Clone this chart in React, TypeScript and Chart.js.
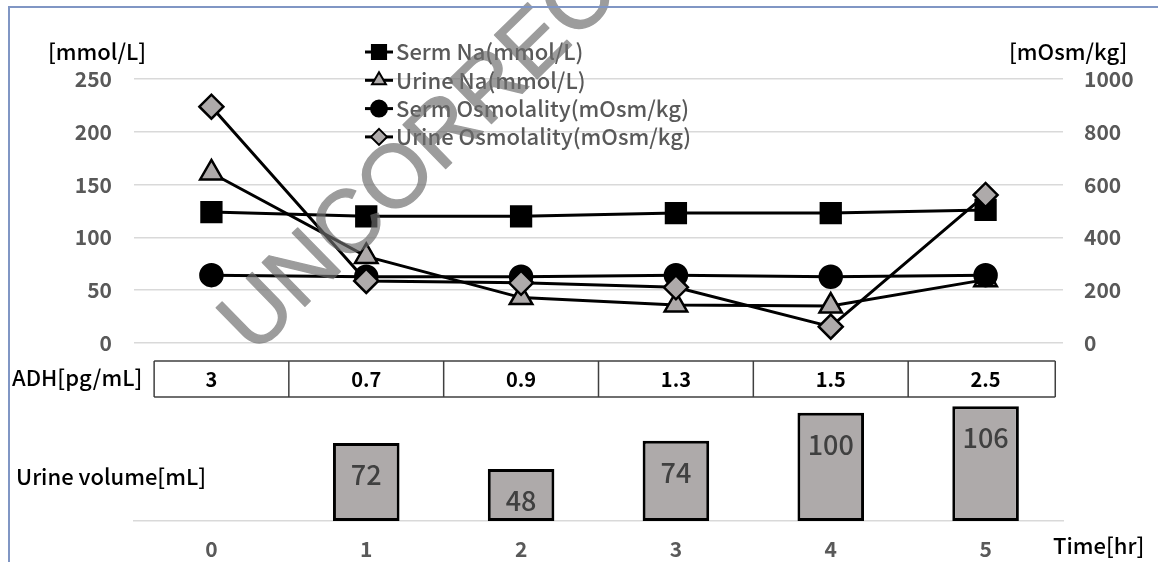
import React, { useEffect, useRef } from 'react';
import { Chart, registerables } from 'chart.js';

Chart.register(...registerables);

// ---------- data ----------
const timeLabels = ['0', '1', '2', '3', '4', '5'];
const seriesNames = [
  'Serm Na(mmol/L)',
  'Urine Na(mmol/L)',
  'Serm Osmolality(mOsm/kg)',
  'Urine Osmolality(mOsm/kg)',
];
const sermNa = [124, 120, 120, 123, 123, 126];
const urineNa = [161, 82, 43, 36, 35, 60];
const sermOsm = [257, 251, 251, 257, 251, 257];
const urineOsm = [895, 235, 228, 211, 62, 561];
const adhValues = ['3', '0.7', '0.9', '1.3', '1.5', '2.5'];
const urineVolume = [null, 72, 48, 74, 100, 106];
const leftAxis = { min: 0, max: 250, step: 50 };
const rightAxis = { min: 0, max: 1000, step: 200 };
const volumeAxis = { min: 0, max: 120 };

// ---------- styles ----------
const JP = '"Noto Sans CJK JP", "Noto Sans", sans-serif';
const GRAY_FILL = '#AEAAAA';
const TICK_COLOR = '#595959';
const GRID_COLOR = '#d9d9d9';

type MarkerStyle = 'rect' | 'triangle' | 'circle' | 'rectRot';
const markerStyles: MarkerStyle[] = ['rect', 'triangle', 'circle', 'rectRot'];
const markerFills = ['#000000', GRAY_FILL, '#000000', GRAY_FILL];
const markerRadii = [14, 13, 11, 12];

function drawMarker(ctx: CanvasRenderingContext2D, style: MarkerStyle, x: number, y: number, r: number, fill: string, lw: number) {
  ctx.save();
  ctx.beginPath();
  if (style === 'rect') {
    const s = r * Math.SQRT1_2;
    ctx.rect(x - s, y - s, 2 * s, 2 * s);
  } else if (style === 'circle') {
    ctx.arc(x, y, r, 0, Math.PI * 2);
  } else if (style === 'triangle') {
    for (let k = 0; k < 3; k++) {
      const a = (k * 2 * Math.PI) / 3;
      const px = x + Math.sin(a) * r;
      const py = y - Math.cos(a) * r;
      if (k === 0) ctx.moveTo(px, py);
      else ctx.lineTo(px, py);
    }
    ctx.closePath();
  } else {
    ctx.moveTo(x, y - r);
    ctx.lineTo(x + r, y);
    ctx.lineTo(x, y + r);
    ctx.lineTo(x - r, y);
    ctx.closePath();
  }
  ctx.fillStyle = fill;
  ctx.fill();
  ctx.lineWidth = lw;
  ctx.strokeStyle = '#000';
  ctx.stroke();
  ctx.restore();
}

const decorPlugin = {
  id: 'decor',
  afterDraw(chart: any) {
    const ctx: CanvasRenderingContext2D = chart.ctx;
    const xs = chart.scales.x;
    ctx.save();
    ctx.textBaseline = 'middle';

    // axis titles
    ctx.fillStyle = '#000';
    ctx.font = `500 22px ${JP}`;
    ctx.textAlign = 'left';
    ctx.fillText('[mmol/L]', 48, 52);
    ctx.fillText('[mOsm/kg]', 1009, 52);

    // legend
    for (let i = 0; i < seriesNames.length; i++) {
      const y = 52 + i * 28.3;
      ctx.beginPath();
      ctx.moveTo(365, y);
      ctx.lineTo(393, y);
      ctx.lineWidth = 3;
      ctx.strokeStyle = '#000';
      ctx.stroke();
      drawMarker(ctx, markerStyles[i], 379, y, i === 0 ? 10 : 8, markerFills[i], 2);
      ctx.fillStyle = TICK_COLOR;
      ctx.font = `500 22px ${JP}`;
      ctx.textAlign = 'left';
      ctx.fillText(seriesNames[i], 396, y);
    }

    // ADH table
    const n = adhValues.length;
    const px = (i: number) => xs.getPixelForValue(i);
    const bounds: number[] = [];
    bounds.push(px(0) - (px(1) - px(0)) * 0.37);
    for (let i = 0; i < n - 1; i++) bounds.push((px(i) + px(i + 1)) / 2);
    bounds.push(px(n - 1) + (px(1) - px(0)) * 0.45);
    const top = 361;
    const bottom = 397;
    ctx.strokeStyle = '#404040';
    ctx.lineWidth = 1.5;
    ctx.beginPath();
    ctx.moveTo(bounds[0], top);
    ctx.lineTo(bounds[n], top);
    ctx.moveTo(bounds[0], bottom);
    ctx.lineTo(bounds[n], bottom);
    for (const b of bounds) {
      ctx.moveTo(b, top);
      ctx.lineTo(b, bottom);
    }
    ctx.stroke();
    ctx.fillStyle = '#000';
    ctx.font = `bold 20px ${JP}`;
    ctx.textAlign = 'center';
    for (let i = 0; i < n; i++) ctx.fillText(adhValues[i], px(i), 379);

    ctx.textAlign = 'left';
    ctx.font = `500 22px ${JP}`;
    ctx.fillText('ADH[pg/mL]', 12, 378);
    ctx.fillText('Urine volume[mL]', 16, 477);
    ctx.fillText('Time[hr]', 1053, 546);
    ctx.restore();
  },
};

const barLabelPlugin = {
  id: 'barLabels',
  afterDatasetsDraw(chart: any) {
    const ctx: CanvasRenderingContext2D = chart.ctx;
    const meta = chart.getDatasetMeta(0);
    ctx.save();
    ctx.fillStyle = '#404040';
    ctx.font = `500 27px ${JP}`;
    ctx.textAlign = 'center';
    ctx.textBaseline = 'middle';
    meta.data.forEach((el: any, i: number) => {
      const v = urineVolume[i];
      if (v == null) return;
      ctx.fillText(String(v), el.x, el.y + 32);
    });
    ctx.restore();
  },
  afterDraw(chart: any) {
    const ctx: CanvasRenderingContext2D = chart.ctx;
    // watermark (drawn opaque offscreen, then composited translucently)
    const off = document.createElement('canvas');
    off.width = chart.width;
    off.height = chart.height;
    const o = off.getContext('2d')!;
    const text = 'UNCORRECTED';
    o.font = `100px "Liberation Sans", Arial, sans-serif`;
    const w100 = o.measureText(text).width;
    const size = (100 * 690) / w100;
    o.font = `${size}px "Liberation Sans", Arial, sans-serif`;
    o.translate(478, 92);
    o.rotate((-44.4 * Math.PI) / 180);
    o.fillStyle = 'rgb(110,110,110)';
    o.strokeStyle = 'rgb(110,110,110)';
    o.lineWidth = 1.4;
    o.lineJoin = 'round';
    o.textAlign = 'center';
    o.textBaseline = 'alphabetic';
    o.fillText(text, 0, size * 0.36);
    o.strokeText(text, 0, size * 0.36);
    ctx.save();
    ctx.globalAlpha = 0.68;
    ctx.drawImage(off, 0, 0);
    ctx.restore();
    // frame
    ctx.save();
    ctx.strokeStyle = '#8096c4';
    ctx.lineWidth = 2;
    ctx.beginPath();
    ctx.moveTo(9, 562);
    ctx.lineTo(9, 7);
    ctx.lineTo(1158, 7);
    ctx.stroke();
    ctx.restore();
  },
};

export default function App() {
  const topRef = useRef<HTMLCanvasElement>(null);
  const barRef = useRef<HTMLCanvasElement>(null);

  useEffect(() => {
    const seriesData = [sermNa, urineNa, sermOsm, urineOsm];
    const axes = ['yL', 'yL', 'yR', 'yR'];
    const tickFont = { family: JP, size: 21, weight: 'bold' };
    const lineChart = new Chart(topRef.current!, {
      type: 'line',
      data: {
        labels: timeLabels,
        datasets: seriesData.map((d, i) => ({
          label: seriesNames[i],
          data: d,
          yAxisID: axes[i],
          order: 4 - i,
          borderColor: '#000',
          borderWidth: 3,
          tension: 0,
          pointStyle: markerStyles[i],
          pointRadius: markerRadii[i],
          pointBackgroundColor: markerFills[i],
          pointBorderColor: '#000',
          pointBorderWidth: 2.5,
        })),
      },
      options: {
        animation: false,
        responsive: false,
        layout: { padding: { top: 79, bottom: 219, left: 0, right: 0 } },
        plugins: { legend: { display: false }, tooltip: { enabled: false } },
        scales: {
          x: { display: false, offset: true },
          yL: {
            position: 'left',
            min: leftAxis.min,
            max: leftAxis.max,
            ticks: { stepSize: leftAxis.step, padding: 22, color: TICK_COLOR, font: tickFont, callback: (v: any) => String(v) },
            grid: { color: GRID_COLOR, lineWidth: 1.5, drawTicks: false },
            border: { display: false },
            afterFit: (s: any) => { s.width = 134; },
          },
          yR: {
            position: 'right',
            min: rightAxis.min,
            max: rightAxis.max,
            ticks: { stepSize: rightAxis.step, padding: 21, color: TICK_COLOR, font: tickFont, callback: (v: any) => String(v) },
            grid: { display: false, drawTicks: false },
            border: { display: false },
            afterFit: (s: any) => { s.width = 95; },
          },
        },
      } as any,
      plugins: [decorPlugin],
    });

    const barChart = new Chart(barRef.current!, {
      type: 'bar',
      data: {
        labels: timeLabels,
        datasets: [
          {
            label: 'Urine volume[mL]',
            data: urineVolume as any,
            backgroundColor: GRAY_FILL,
            borderColor: '#000',
            borderWidth: 3,
            borderSkipped: false,
            barPercentage: 0.43,
            categoryPercentage: 1,
          },
        ],
      },
      options: {
        animation: false,
        responsive: false,
        layout: { padding: { top: 391, left: 134, right: 95, bottom: 0 } },
        plugins: { legend: { display: false }, tooltip: { enabled: false } },
        scales: {
          x: {
            grid: { display: false, drawTicks: false },
            border: { color: GRID_COLOR, width: 1.5 },
            ticks: { color: TICK_COLOR, padding: 15, font: tickFont },
            afterFit: (s: any) => { s.height = 41; },
          },
          y: { display: false, min: volumeAxis.min, max: volumeAxis.max },
        },
      } as any,
      plugins: [barLabelPlugin],
    });

    return () => {
      lineChart.destroy();
      barChart.destroy();
    };
  }, []);

  const canvasStyle: React.CSSProperties = { position: 'absolute', left: 0, top: 0, width: 1158, height: 562 };
  return (
    <div style={{ position: 'fixed', left: 0, top: 0, width: 1158, height: 562, background: '#fff' }}>
      <canvas ref={topRef} width={1158} height={562} style={canvasStyle} />
      <canvas ref={barRef} width={1158} height={562} style={canvasStyle} />
    </div>
  );
}
